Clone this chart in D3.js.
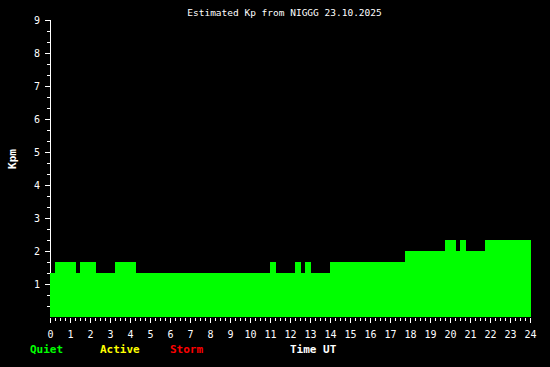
<!DOCTYPE html>
<html>
<head>
<meta charset="utf-8">
<script src="https://cdn.jsdelivr.net/npm/d3@7"></script>
<style>
  body { margin: 0; background: #000; }
  svg { display: block; }
  text { font-family: "DejaVu Sans Mono", monospace; }
</style>
</head>
<body>
<div id="chart"></div>
<script>
// Kp segments: start hour (UT) and value, last one runs to endHour
const segStart = [0, 0.25, 1.3, 1.5, 2.3, 3.25, 4.3, 11.0, 11.3, 12.25, 12.55, 12.75, 13.05, 14.0, 17.75, 19.75, 20.3, 20.5, 20.8, 21.75];
const kpValues = [1.33, 1.67, 1.33, 1.67, 1.33, 1.67, 1.33, 1.67, 1.33, 1.67, 1.33, 1.67, 1.33, 1.67, 2.0, 2.33, 2.0, 2.33, 2.0, 2.33];
const endHour = 24.05;
const xTicks = d3.range(0, 25);
const yTicks = d3.range(1, 10);
const legend = [
  { label: 'Quiet', color: '#00ff00' },
  { label: 'Active', color: '#ffff00' },
  { label: 'Storm', color: '#ff0000' }
];

const width = 550, height = 367;

const svg = d3.select('#chart')
  .append('svg')
  .attr('width', width)
  .attr('height', height)
  .style('background', '#000');

const x = d3.scaleLinear().domain([0, 24]).range([50, 530]);
const y = d3.scaleLinear().domain([0, 9]).range([317, 20]);

// steps from data
const pts = segStart.map((s, i) => ({ t: s, v: kpValues[i] }));
pts.push({ t: endHour, v: kpValues[kpValues.length - 1] });

// y axis line + ticks
svg.append('line')
  .attr('x1', 50.5).attr('x2', 50.5)
  .attr('y1', y(9)).attr('y2', y(0))
  .attr('stroke', '#fff')
  .attr('shape-rendering', 'crispEdges');

const yMinor = d3.range(1, 27).map(d => d / 3).filter(d => Math.abs(d - Math.round(d)) > 0.01);
svg.selectAll('.ymin')
  .data(yMinor)
  .enter().append('line')
  .attr('x1', 47).attr('x2', 50)
  .attr('y1', d => Math.round(y(d)) + 0.5)
  .attr('y2', d => Math.round(y(d)) + 0.5)
  .attr('stroke', '#fff')
  .attr('shape-rendering', 'crispEdges');

svg.selectAll('.ymaj')
  .data(yTicks)
  .enter().append('line')
  .attr('x1', 45).attr('x2', 50)
  .attr('y1', d => Math.round(y(d)) + 0.5)
  .attr('y2', d => Math.round(y(d)) + 0.5)
  .attr('stroke', '#fff')
  .attr('shape-rendering', 'crispEdges');

svg.selectAll('.ylab')
  .data(yTicks)
  .enter().append('text')
  .attr('x', 40)
  .attr('y', d => y(d) + 4)
  .attr('text-anchor', 'end')
  .attr('fill', '#fff')
  .attr('font-size', '10px')
  .text(d => d);

// kp area
const area = d3.area()
  .x(d => x(d.t))
  .y0(y(0))
  .y1(d => y(d.v))
  .curve(d3.curveStepAfter);

svg.append('path')
  .datum(pts)
  .attr('d', area)
  .attr('fill', '#00ff00')
  .attr('shape-rendering', 'crispEdges');

// x ticks
const xMinor = d3.range(0, 97).map(d => d / 4).filter(d => d % 1 !== 0);
svg.selectAll('.xmin')
  .data(xMinor)
  .enter().append('line')
  .attr('x1', d => Math.round(x(d)) + 0.5)
  .attr('x2', d => Math.round(x(d)) + 0.5)
  .attr('y1', 318).attr('y2', 321)
  .attr('stroke', '#fff')
  .attr('shape-rendering', 'crispEdges');

svg.selectAll('.xmaj')
  .data(xTicks)
  .enter().append('line')
  .attr('x1', d => Math.round(x(d)) + 0.5)
  .attr('x2', d => Math.round(x(d)) + 0.5)
  .attr('y1', 318).attr('y2', 323)
  .attr('stroke', '#fff')
  .attr('shape-rendering', 'crispEdges');

svg.selectAll('.xlab')
  .data(xTicks)
  .enter().append('text')
  .attr('x', d => x(d) + 0.5)
  .attr('y', 338)
  .attr('text-anchor', 'middle')
  .attr('fill', '#fff')
  .attr('font-size', '10px')
  .text(d => d);

// title
svg.append('text')
  .attr('x', 284.5)
  .attr('y', 15.5)
  .attr('text-anchor', 'middle')
  .attr('fill', '#fff')
  .attr('font-size', '9.5px')
  .text('Estimated Kp from NIGGG 23.10.2025');

// y label
svg.append('text')
  .attr('transform', 'translate(16, 159) rotate(-90)')
  .attr('text-anchor', 'middle')
  .attr('fill', '#fff')
  .attr('font-size', '11px')
  .attr('font-weight', 'bold')
  .text('Kpm');

// legend
svg.selectAll('.leg')
  .data(legend)
  .enter().append('text')
  .attr('x', (d, i) => 30 + i * 70)
  .attr('y', 353)
  .attr('fill', d => d.color)
  .attr('font-size', '11px')
  .attr('font-weight', 'bold')
  .text(d => d.label);

svg.append('text')
  .attr('x', 290)
  .attr('y', 353)
  .attr('fill', '#fff')
  .attr('font-size', '11px')
  .attr('font-weight', 'bold')
  .text('Time UT');
</script>
</body>
</html>
